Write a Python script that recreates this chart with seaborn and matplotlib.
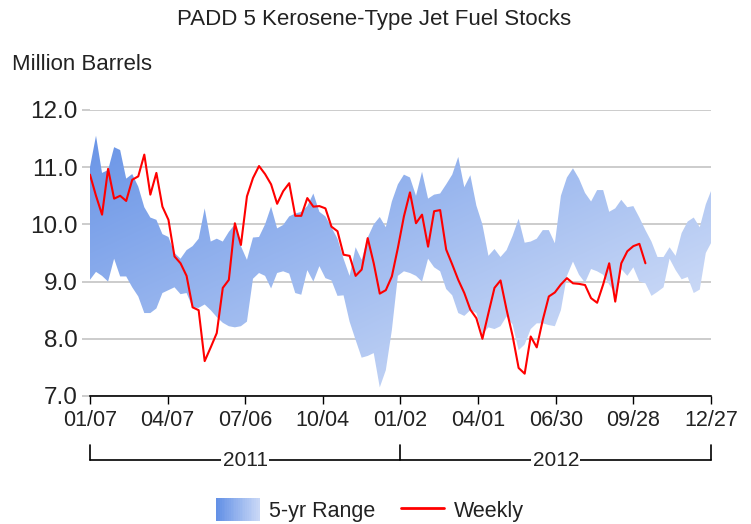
import numpy as np
import pandas as pd
import seaborn as sns
import matplotlib.pyplot as plt
import matplotlib.transforms as mtransforms
from matplotlib.colors import LinearSegmentedColormap
from matplotlib.legend_handler import HandlerBase
from matplotlib.patches import Rectangle
from matplotlib.lines import Line2D

sns.set_theme(style="white")
plt.rcParams['font.family'] = ['Liberation Sans', 'DejaVu Sans']

# weekly data, first week 2011-01-07
start = "2011-01-07"

weekly = [10.87, 10.50, 10.17, 10.97, 10.45, 10.50, 10.41, 10.78, 10.84, 11.22,
          10.52, 10.90, 10.31, 10.08, 9.44, 9.32, 9.10, 8.55, 8.50, 7.61,
          7.85, 8.10, 8.89, 9.03, 10.02, 9.64, 10.49, 10.81, 11.02, 10.88,
          10.70, 10.36, 10.58, 10.72, 10.15, 10.15, 10.46, 10.31, 10.32, 10.28,
          9.96, 9.88, 9.47, 9.45, 9.10, 9.21, 9.76, 9.32, 8.79, 8.85,
          9.09, 9.59, 10.14, 10.56, 10.02, 10.17, 9.61, 10.23, 10.25, 9.56,
          9.30, 9.03, 8.80, 8.51, 8.36, 8.00, 8.45, 8.89, 9.02, 8.51,
          8.05, 7.49, 7.39, 8.04, 7.85, 8.33, 8.74, 8.81, 8.95, 9.06,
          8.97, 8.96, 8.94, 8.71, 8.63, 8.95, 9.32, 8.65, 9.32, 9.53,
          9.62, 9.66, 9.32]

range_high = [11.00, 11.55, 10.90, 10.95, 11.35, 11.30, 10.80, 10.88, 10.66, 10.30,
              10.12, 10.08, 9.83, 9.78, 9.50, 9.40, 9.55, 9.62, 9.75, 10.28,
              9.70, 9.75, 9.70, 9.87, 10.00, 9.62, 9.38, 9.77, 9.78, 10.00,
              10.31, 9.93, 9.99, 10.14, 10.19, 10.22, 10.32, 10.54, 10.22, 10.14,
              9.95, 9.75, 9.40, 9.10, 9.60, 9.38, 9.77, 10.00, 10.13, 9.95,
              10.40, 10.70, 10.87, 10.82, 10.50, 10.92, 10.45, 10.52, 10.54, 10.70,
              10.87, 11.18, 10.65, 10.86, 10.33, 10.00, 9.45, 9.57, 9.43, 9.55,
              9.80, 10.10, 9.68, 9.70, 9.75, 9.90, 9.90, 9.67, 10.50, 10.82,
              10.98, 10.80, 10.55, 10.40, 10.60, 10.60, 10.22, 10.28, 10.43, 10.30,
              10.32, 10.12, 9.90, 9.70, 9.43, 9.43, 9.60, 9.45, 9.85, 10.05,
              10.12, 9.95, 10.35, 10.62]

range_low = [9.03, 9.17, 9.10, 9.00, 9.40, 9.09, 9.09, 8.90, 8.74, 8.45,
             8.45, 8.53, 8.80, 8.85, 8.90, 8.78, 8.80, 8.55, 8.54, 8.60,
             8.50, 8.38, 8.28, 8.22, 8.20, 8.22, 8.30, 9.05, 9.15, 9.10,
             8.88, 9.15, 9.18, 9.14, 8.80, 8.77, 9.20, 9.00, 9.27, 9.06,
             9.02, 8.75, 8.76, 8.30, 7.98, 7.67, 7.70, 7.75, 7.15, 7.45,
             8.15, 9.10, 9.18, 9.15, 9.10, 9.00, 9.40, 9.25, 9.18, 8.87,
             8.76, 8.45, 8.40, 8.50, 8.45, 8.08, 8.20, 8.17, 8.22, 8.39,
             8.25, 7.80, 7.90, 8.17, 8.27, 8.27, 8.24, 8.22, 8.50, 9.10,
             9.35, 9.12, 8.98, 9.22, 9.18, 9.12, 8.95, 8.78, 9.22, 9.10,
             9.25, 9.00, 8.97, 8.75, 8.82, 8.90, 9.40, 9.20, 9.04, 9.08,
             8.80, 8.86, 9.50, 9.70]

tick_dates = ["2011-01-07", "2011-04-07", "2011-07-06", "2011-10-04", "2012-01-02",
              "2012-04-01", "2012-06-30", "2012-09-28", "2012-12-27"]
tick_labels = ["01/07", "04/07", "07/06", "10/04", "01/02", "04/01", "06/30", "09/28", "12/27"]
y_ticks = [7.0, 8.0, 9.0, 10.0, 11.0, 12.0]
years = ["2011", "2012"]

weeks = pd.date_range(start, periods=len(range_high), freq="7D")
df = pd.DataFrame({"week": weeks[:len(weekly)], "stocks": weekly})
ticks = pd.to_datetime(tick_dates)

fig = plt.figure(figsize=(7.51, 5.24), dpi=100)
ax = fig.add_axes([0.1198, 0.2443, 0.8269, 0.5458])

# 5-yr range with a diagonal gradient fill
band = ax.fill_between(weeks, range_low, range_high, facecolor="none", edgecolor="none")
cmap = LinearSegmentedColormap.from_list("band", ["#6491e6", "#e1e9fa"])
gx, gy = np.meshgrid(np.linspace(0, 1, 300), np.linspace(0, 1, 300))
im = ax.imshow(0.5 * gx + 0.5 * gy, cmap=cmap, extent=[0, 1, 0, 1], origin="upper",
               transform=ax.transAxes, aspect="auto", zorder=1, interpolation="bilinear")
im.set_clip_path(band.get_paths()[0], transform=ax.transData)

sns.lineplot(data=df, x="week", y="stocks", color="red", lw=1.5, ax=ax, zorder=3)

ax.set_xlim(ticks[0], ticks[-1])
ax.set_ylim(7, 12)
ax.set_xticks(ticks)
ax.set_xticklabels(tick_labels)
ax.set_yticks(y_ticks)
ax.set_yticklabels([f"{v:.1f}" for v in y_ticks])
ax.set_xlabel("")
ax.set_ylabel("")
ax.grid(axis="y", color="#c4c4c4", lw=1.2)
ax.set_axisbelow(True)
for s in ["left", "right", "top"]:
    ax.spines[s].set_visible(False)
ax.spines["bottom"].set_color("black")
ax.spines["bottom"].set_linewidth(1.2)
ax.spines["bottom"].set_zorder(4)
ax.tick_params(axis="x", bottom=True, length=6, width=1, color="black",
               labelsize=15.5, pad=4, labelcolor="#222222")
ax.tick_params(axis="y", left=True, length=6, width=1.2, color="#c4c4c4",
               labelsize=17.5, pad=3, labelcolor="#222222")

# year brackets under the axis
tr = mtransforms.blended_transform_factory(ax.transData, ax.transAxes)
yb, yt = -0.224, -0.171
ax.plot([ticks[0], ticks[-1]], [yb, yb], color="black", lw=1.2, transform=tr, clip_on=False)
for d in [ticks[0], ticks[4], ticks[-1]]:
    ax.plot([d, d], [yb, yt], color="black", lw=1.2, transform=tr, clip_on=False)
for i, yr in enumerate(years):
    mid = ticks[4 * i] + (ticks[4 * i + 4] - ticks[4 * i]) / 2
    ax.text(mid, yb, yr, transform=tr, ha="center", va="center", fontsize=15,
            color="#222222", zorder=5,
            bbox=dict(facecolor="white", edgecolor="none", pad=1))

fig.text(0.498, 1 - 19 / 524, "PADD 5 Kerosene-Type Jet Fuel Stocks",
         ha="center", va="center", fontsize=16, color="#222222")
fig.text(12 / 751, 1 - 65 / 524, "Million Barrels", ha="left", va="center",
         fontsize=16, color="#222222")


class GradientHandler(HandlerBase):
    def create_artists(self, legend, orig_handle, xdescent, ydescent, width, height, fontsize, trans):
        n = 24
        out = []
        for i in range(n):
            r = Rectangle((-xdescent + width * i / n, -ydescent - height * 0.1),
                          width / n * 1.05, height * 1.2,
                          facecolor=cmap(0.8 * i / (n - 1)), edgecolor="none", transform=trans)
            out.append(r)
        return out


proxy = Rectangle((0, 0), 1, 1)
fig.legend(handles=[proxy, Line2D([], [], color="red", lw=2)],
           labels=["5-yr Range", "Weekly"], handler_map={proxy: GradientHandler()},
           loc="center", bbox_to_anchor=(0.493, 0.025), ncol=2, frameon=False,
           fontsize=15.5, handlelength=2.0, handleheight=1.0, columnspacing=1.2,
           handletextpad=0.45, labelcolor="#222222")

fig.savefig("out.png", dpi=100)
